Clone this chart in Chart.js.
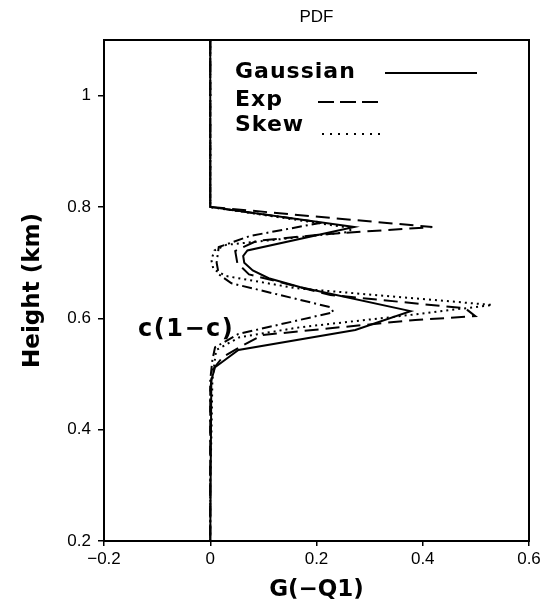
<!DOCTYPE html>
<html>
<head>
<meta charset="utf-8">
<script src="https://cdn.jsdelivr.net/npm/chart.js@4.4.0/dist/chart.umd.min.js"></script>
<style>
html, body { margin: 0; padding: 0; background: #fff; }
</style>
</head>
<body>
<canvas id="myChart" width="544" height="611"></canvas>
<script>
// Values: height (km) and G(-Q1) for each curve
var gaussH = [1.1, 0.8, 0.764, 0.722, 0.712, 0.70, 0.686, 0.672, 0.656, 0.613, 0.579, 0.543, 0.512, 0.489, 0.2];
var gaussG = [0, 0, 0.271, 0.07, 0.062, 0.064, 0.08, 0.11, 0.17, 0.377, 0.273, 0.053, 0.009, 0.002, 0];

var expH = [1.1, 0.8, 0.764, 0.751, 0.739, 0.721, 0.699, 0.679, 0.642, 0.618, 0.604, 0.597, 0.584, 0.57, 0.548, 0.53, 0.507, 0.47, 0.2];
var expG = [0, 0, 0.418, 0.213, 0.087, 0.047, 0.051, 0.073, 0.226, 0.48, 0.499, 0.386, 0.245, 0.098, 0.055, 0.023, 0.004, 0, 0];

var skewH = [1.1, 0.8, 0.762, 0.755, 0.732, 0.722, 0.705, 0.688, 0.676, 0.654, 0.624, 0.604, 0.584, 0.566, 0.543, 0.489, 0.381, 0.31, 0.2];
var skewG = [0, 0, 0.267, 0.26, 0.03, 0.008, 0.002, 0.006, 0.03, 0.162, 0.531, 0.358, 0.169, 0.055, 0.011, 0.004, 0.002, 0, 0];

var ccH = [1.1, 0.8, 0.772, 0.748, 0.728, 0.70, 0.679, 0.663, 0.62, 0.611, 0.572, 0.548, 0.525, 0.489, 0.2];
var ccG = [0, 0, 0.21, 0.075, 0.016, 0.012, 0.016, 0.04, 0.226, 0.232, 0.053, 0.009, 0.004, 0, 0];

var xTickVals = [-0.2, 0, 0.2, 0.4, 0.6];
var xTickLabels = ['\u22120.2', '0', '0.2', '0.4', '0.6'];
var yTickVals = [0.2, 0.4, 0.6, 0.8, 1.0];
var yTickLabels = ['0.2', '0.4', '0.6', '0.8', '1'];

function pts(h, g) {
	return h.map(function (v, i) { return {x: g[i], y: v}; });
}

var tickFont = {family: '"Liberation Sans", Arial, sans-serif', size: 17};
var titleFont = {family: '"DejaVu Sans", sans-serif', size: 23, weight: 'bold'};

// frame, legend and the c(1-c) note
var extras = {
	id: 'extras',
	afterDraw: function (chart) {
		var ctx = chart.ctx;
		var a = chart.chartArea;
		ctx.save();
		ctx.strokeStyle = '#000';
		ctx.lineWidth = 2;
		ctx.strokeRect(a.left, a.top, a.right - a.left, a.bottom - a.top);

		ctx.fillStyle = '#000';
		ctx.font = 'bold 22px "DejaVu Sans", sans-serif';
		ctx.letterSpacing = '1px';
		ctx.textBaseline = 'middle';
		ctx.fillText('Gaussian', 235, 72);
		ctx.fillText('Exp', 235, 100);
		ctx.fillText('Skew', 235, 125);

		ctx.lineWidth = 2;
		ctx.beginPath(); ctx.setLineDash([]);
		ctx.moveTo(385, 73); ctx.lineTo(477, 73); ctx.stroke();
		ctx.beginPath(); ctx.setLineDash([16, 6]);
		ctx.moveTo(318, 102); ctx.lineTo(378, 102); ctx.stroke();
		ctx.beginPath(); ctx.setLineDash([2, 6]);
		ctx.moveTo(322, 134); ctx.lineTo(382, 134); ctx.stroke();
		ctx.setLineDash([]);

		ctx.font = 'bold 24px "DejaVu Sans", sans-serif';
		ctx.letterSpacing = '1.5px';
		ctx.fillText('c(1\u2212c)', 138, 330);
		ctx.restore();
	}
};

var ctx = document.getElementById('myChart');
var myChart = new Chart(ctx, {
	type: 'scatter',
	data: {
		datasets: [
			{label: 'Gaussian', data: pts(gaussH, gaussG), borderColor: '#000', borderWidth: 2, borderDash: []},
			{label: 'Exp', data: pts(expH, expG), borderColor: '#000', borderWidth: 2, borderDash: [14, 7]},
			{label: 'Skew', data: pts(skewH, skewG), borderColor: '#000', borderWidth: 2, borderDash: [2, 4]},
			{label: 'c(1-c)', data: pts(ccH, ccG), borderColor: '#000', borderWidth: 2, borderDash: [10, 4, 2, 4]}
		]
	},
	options: {
		responsive: false,
		animation: false,
		showLine: true,
		elements: {
			point: {radius: 0, hoverRadius: 0},
			line: {tension: 0, fill: false}
		},
		layout: {padding: {left: 0, right: 15, top: 0, bottom: 0}},
		plugins: {
			legend: {display: false},
			tooltip: {enabled: false},
			title: {
				display: true,
				fullSize: false,
				text: 'PDF',
				color: '#000',
				font: {family: '"Liberation Sans", Arial, sans-serif', size: 17, weight: 'normal'},
				padding: {top: 7, bottom: 12.6}
			}
		},
		scales: {
			x: {
				type: 'linear',
				min: -0.2,
				max: 0.6,
				afterBuildTicks: function (scale) {
					scale.ticks = xTickVals.map(function (v) { return {value: v}; });
				},
				afterFit: function (scale) { scale.height = 70; },
				ticks: {
					color: '#000',
					font: tickFont,
					padding: 3,
					maxRotation: 0,
					callback: function (v, i) { return xTickLabels[i]; }
				},
				grid: {display: true, drawOnChartArea: false, drawTicks: true, tickLength: 5, color: '#000', lineWidth: 1.5},
				border: {display: true, color: '#000', width: 2},
				title: {display: true, text: 'G(\u2212Q1)', color: '#000', font: titleFont, padding: {top: 0, bottom: 7}}
			},
			y: {
				type: 'linear',
				min: 0.2,
				max: 1.1,
				afterBuildTicks: function (scale) {
					scale.ticks = yTickVals.map(function (v) { return {value: v}; });
				},
				afterFit: function (scale) { scale.width = 104; },
				ticks: {
					color: '#000',
					font: tickFont,
					padding: 7,
					callback: function (v, i) { return yTickLabels[i]; }
				},
				grid: {display: true, drawOnChartArea: false, drawTicks: true, tickLength: 6, color: '#000', lineWidth: 1.5},
				border: {display: true, color: '#000', width: 2},
				title: {display: true, text: 'Height (km)', color: '#000', font: titleFont, padding: {top: 19, bottom: 0}}
			}
		}
	},
	plugins: [extras]
});
</script>
</body>
</html>
